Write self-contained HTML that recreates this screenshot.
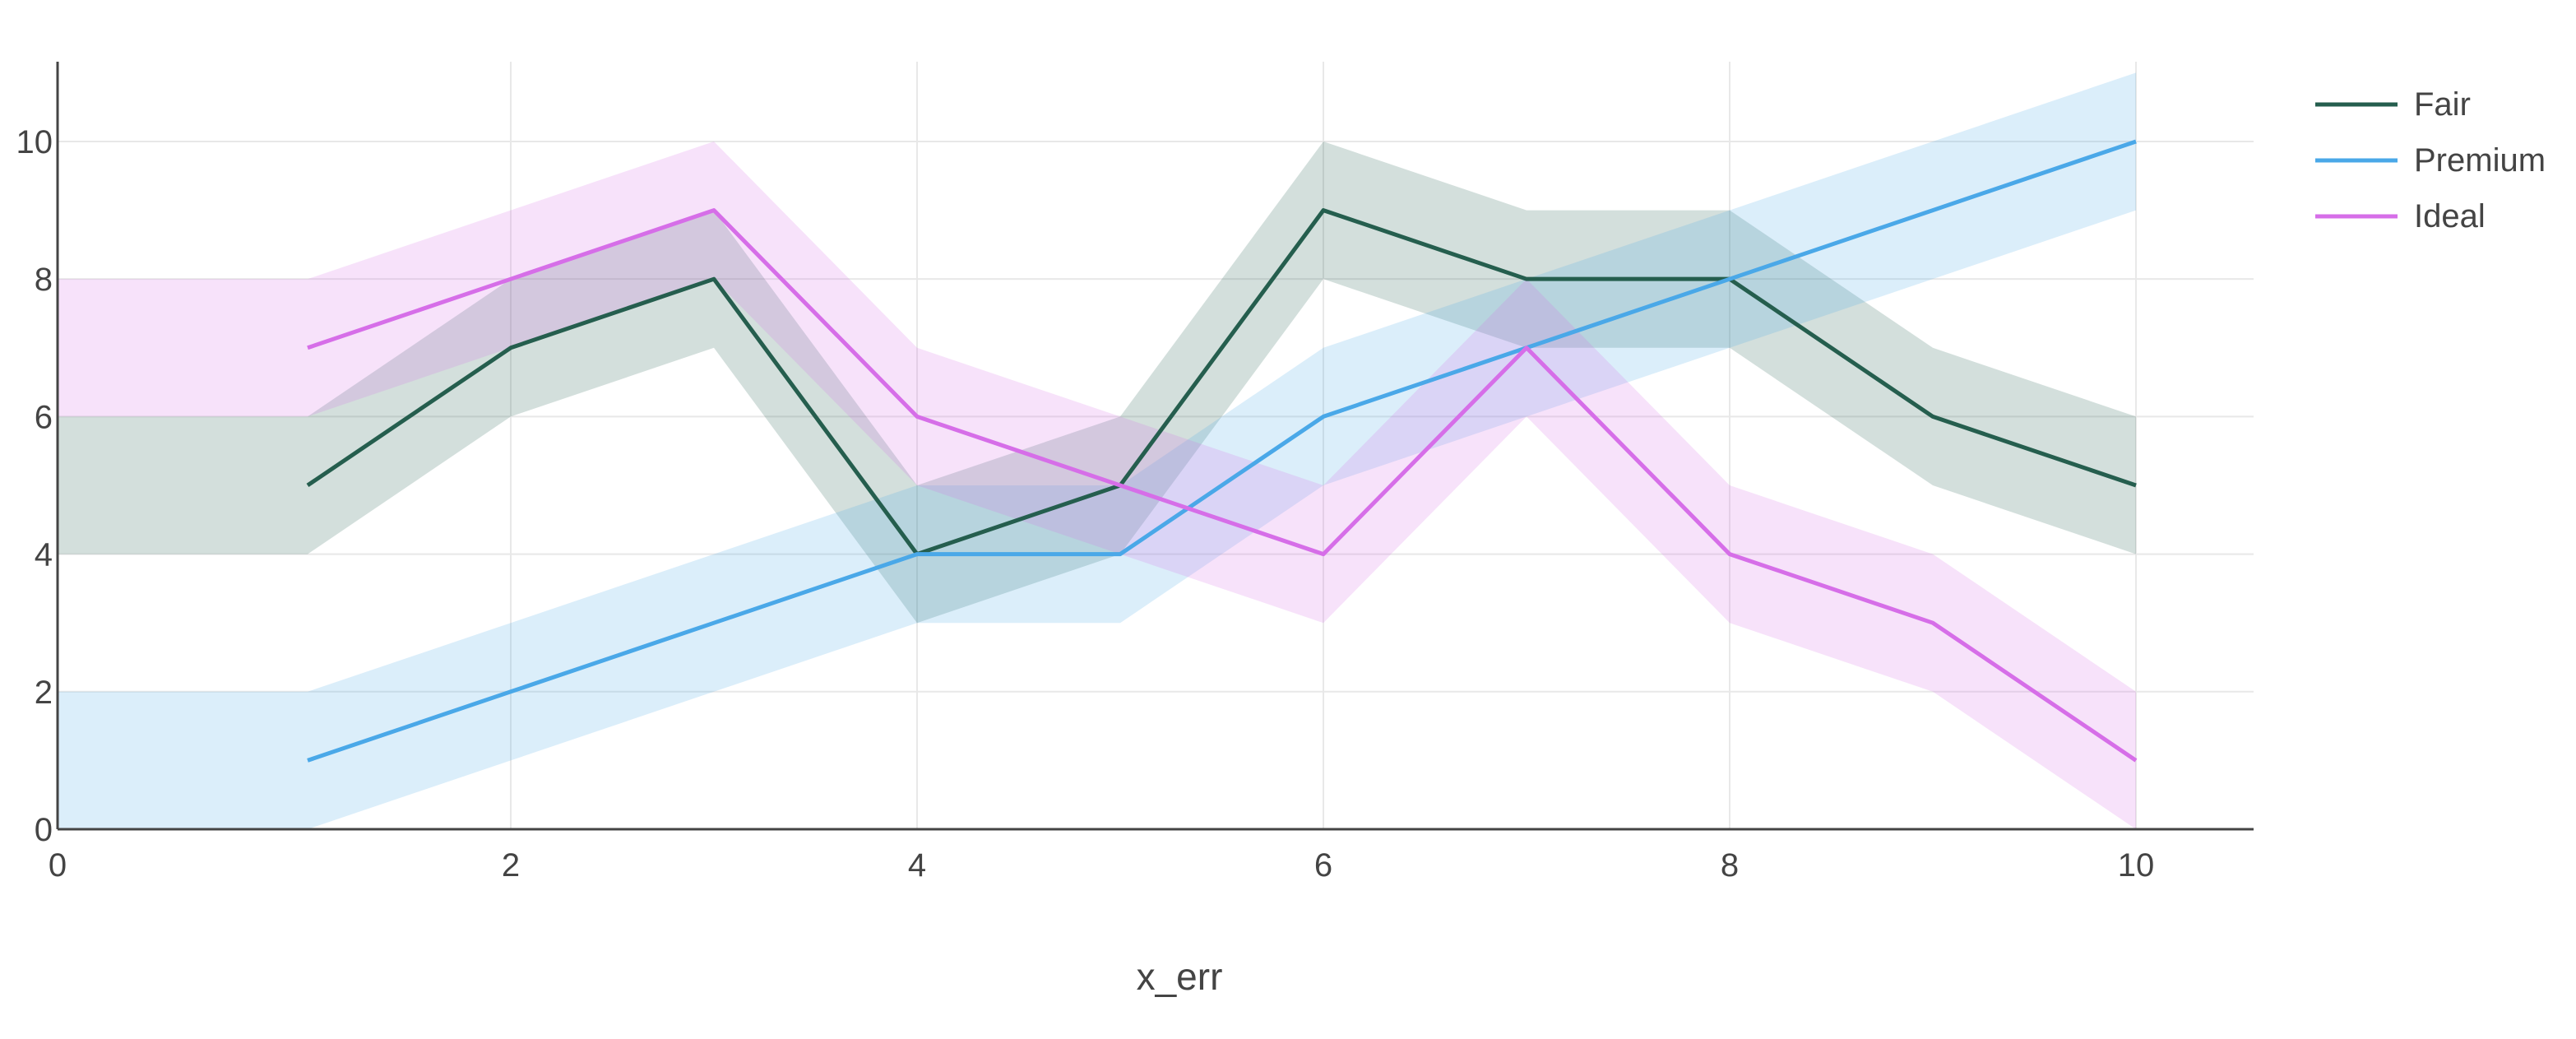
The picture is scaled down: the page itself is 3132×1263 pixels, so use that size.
<!DOCTYPE html>
<html><head><meta charset="utf-8"><style>
body{margin:0;background:#fff;}
svg text{font-family:"Liberation Sans","DejaVu Sans",sans-serif;fill:#444;}
</style></head><body>
<svg id="chart" width="3132" height="1258" xmlns="http://www.w3.org/2000/svg">
<g id="grid"></g>
<g id="bands"></g>
<g id="lines"></g>
<g id="axes"></g>
<g id="legend"></g>
<text x="1434" y="1203" font-size="46" text-anchor="middle">x_err</text>
</svg>
<script>
const xs = [1,2,3,4,5,6,7,8,9,10];
const fair = [5,7,8,4,5,9,8,8,6,5];
const premium = [1,2,3,4,4,6,7,8,9,10];
const ideal = [7,8,9,6,5,4,7,4,3,1];
const errVal = 1;
const xTicks = [0,2,4,6,8,10];
const yTicks = [0,2,4,6,8,10];
const seriesNames = ["Fair","Premium","Ideal"];

const NS="http://www.w3.org/2000/svg";
const X0=70,X1=2740,Y0=1008,Y1=75,YMAX=11.16;
const sx=v=>v<=0?X0:(v<1?X0+(374-X0)*v:374+247*(v-1));
const sy=v=>Y0-(Y0-Y1)*v/YMAX;
function mk(tag,attrs,parent){const e=document.createElementNS(NS,tag);for(const k in attrs)e.setAttribute(k,attrs[k]);parent.appendChild(e);return e;}
const grid=document.getElementById('grid'),bands=document.getElementById('bands'),lines=document.getElementById('lines'),axes=document.getElementById('axes'),legend=document.getElementById('legend');
xTicks.forEach(t=>{
  if(t>0){const l=mk('line',{x1:sx(t),x2:sx(t),y1:Y1,y2:Y0,stroke:'#e8e8e8','stroke-width':2},grid);
  
  }
  const tx=mk('text',{x:sx(t),y:Y0+57,'font-size':40,'text-anchor':'middle'},axes);tx.textContent=t;
  
  
});
yTicks.forEach(t=>{
  if(t>0){const l=mk('line',{x1:X0,x2:X1,y1:sy(t),y2:sy(t),stroke:'#e8e8e8','stroke-width':2},grid);
  
  }
  const tx=mk('text',{x:X0-6,y:sy(t)+14,'font-size':40,'text-anchor':'end'},axes);tx.textContent=t;
  
  
});
const colors=['#255e4e','#4aa8e8','#d66ee8'];
const data=[fair,premium,ideal];
data.forEach((d,i)=>{
  const bx=[0].concat(xs), bv=[d[0]].concat(d);
  let pts=bx.map((x,j)=>sx(x)+','+sy(bv[j]+errVal));
  pts=pts.concat(bx.slice().reverse().map((x,j)=>sx(x)+','+sy(bv[bv.length-1-j]-errVal)));
  const p=mk('polygon',{points:pts.join(' '),fill:colors[i],'fill-opacity':0.2},bands);
  
  
});
data.forEach((d,i)=>{
  const pl=mk('polyline',{points:xs.map((x,j)=>sx(x)+','+sy(d[j])).join(' '),fill:'none',stroke:colors[i],'stroke-width':5,'stroke-linejoin':'round'},lines);
  
  
  const ly=127+68*i;
  const ll=mk('line',{x1:2815,x2:2915,y1:ly,y2:ly,stroke:colors[i],'stroke-width':5},legend);
  
  
  const lt=mk('text',{x:2935,y:ly+13,'font-size':40},legend);lt.textContent=seriesNames[i];
  
  
});
const ax=mk('line',{x1:X0,x2:X0,y1:Y1,y2:Y0,stroke:'#444','stroke-width':3},axes);


const ay=mk('line',{x1:X0,x2:X1,y1:Y0,y2:Y0,stroke:'#444','stroke-width':3},axes);


</script>
</body></html>
